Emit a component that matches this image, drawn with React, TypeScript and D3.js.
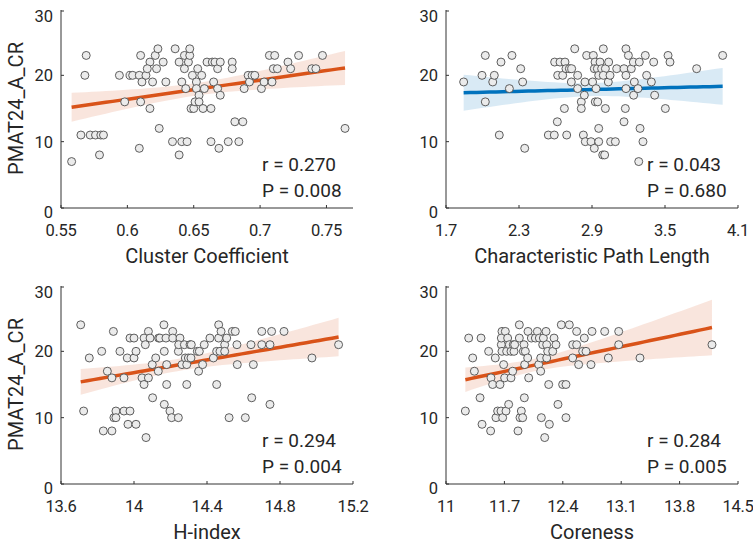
import * as d3 from "d3";
import React from "react";

// PMAT24_A_CR scores vs. graph metrics
const ccX = [0.558, 0.565, 0.568, 0.569, 0.572, 0.576, 0.579, 0.58, 0.582, 0.594, 0.598, 0.602, 0.604, 0.609, 0.61, 0.61, 0.609, 0.611, 0.614, 0.617, 0.617, 0.615, 0.619, 0.621, 0.623, 0.622, 0.624, 0.627, 0.629, 0.636, 0.634, 0.639, 0.639, 0.641, 0.641, 0.643, 0.643, 0.645, 0.644, 0.646, 0.647, 0.647, 0.649, 0.648, 0.65, 0.653, 0.652, 0.652, 0.651, 0.654, 0.654, 0.656, 0.657, 0.658, 0.66, 0.663, 0.663, 0.664, 0.665, 0.666, 0.668, 0.668, 0.669, 0.67, 0.67, 0.676, 0.679, 0.679, 0.681, 0.684, 0.687, 0.688, 0.691, 0.692, 0.694, 0.696, 0.701, 0.703, 0.707, 0.711, 0.709, 0.71, 0.713, 0.721, 0.723, 0.729, 0.739, 0.742, 0.747, 0.764];
const ccY = [7, 11, 20, 23, 11, 11, 8, 11, 11, 20, 16, 20, 20, 20, 23, 16, 9, 19, 20, 15, 22, 21, 19, 23, 24, 21, 12, 22, 19, 24, 10, 22, 8, 10, 19, 23, 21, 10, 18, 22, 23, 24, 20, 15, 15, 21, 19, 18, 16, 17, 16, 20, 15, 18, 22, 10, 15, 22, 19, 22, 21, 18, 9, 22, 17, 10, 22, 21, 13, 10, 13, 18, 20, 19, 20, 20, 18, 19, 23, 23, 19, 21, 21, 22, 21, 23, 21, 21, 23, 12];

const cplX = [1.845, 1.996, 2.023, 2.023, 2.084, 2.097, 2.138, 2.152, 2.221, 2.242, 2.314, 2.33, 2.347, 2.541, 2.59, 2.615, 2.593, 2.618, 2.637, 2.659, 2.673, 2.678, 2.692, 2.686, 2.714, 2.733, 2.73, 2.758, 2.782, 2.782, 2.812, 2.812, 2.829, 2.837, 2.842, 2.845, 2.856, 2.892, 2.905, 2.911, 2.919, 2.925, 2.919, 2.933, 2.927, 2.947, 2.955, 2.955, 2.944, 2.955, 2.966, 2.979, 2.993, 2.988, 3.004, 3.01, 3.01, 2.993, 3.034, 3.037, 3.048, 3.053, 3.092, 3.103, 3.163, 3.163, 3.174, 3.179, 3.179, 3.199, 3.179, 3.223, 3.24, 3.242, 3.248, 3.278, 3.284, 3.289, 3.295, 3.319, 3.338, 3.349, 3.388, 3.407, 3.415, 3.503, 3.525, 3.541, 3.76, 3.974];
const cplY = [19, 20, 23, 16, 19, 20, 11, 22, 18, 23, 21, 19, 9, 11, 11, 13, 22, 20, 22, 20, 15, 22, 11, 21, 21, 21, 19, 24, 20, 18, 16, 15, 11, 17, 19, 10, 23, 10, 19, 23, 9, 22, 21, 18, 16, 16, 12, 10, 21, 20, 22, 21, 24, 8, 8, 21, 15, 20, 19, 22, 20, 10, 10, 21, 21, 13, 15, 20, 24, 23, 18, 21, 22, 17, 19, 18, 7, 22, 12, 10, 23, 20, 19, 22, 17, 15, 23, 22, 21, 23];

const hX = [13.708, 13.724, 13.755, 13.823, 13.832, 13.854, 13.879, 13.879, 13.887, 13.89, 13.901, 13.901, 13.923, 13.945, 13.945, 13.963, 13.967, 13.978, 13.978, 14.0, 14.0, 14.011, 14.011, 14.044, 14.055, 14.055, 14.062, 14.066, 14.079, 14.079, 14.088, 14.1, 14.102, 14.119, 14.133, 14.135, 14.142, 14.164, 14.166, 14.166, 14.175, 14.179, 14.179, 14.197, 14.206, 14.212, 14.212, 14.243, 14.243, 14.252, 14.245, 14.263, 14.276, 14.281, 14.289, 14.289, 14.298, 14.307, 14.312, 14.314, 14.347, 14.354, 14.358, 14.376, 14.385, 14.416, 14.435, 14.453, 14.453, 14.464, 14.464, 14.471, 14.477, 14.497, 14.497, 14.508, 14.521, 14.539, 14.555, 14.564, 14.566, 14.61, 14.641, 14.645, 14.654, 14.7, 14.7, 14.745, 14.745, 14.754, 14.822, 14.975, 15.121];
const hY = [24, 11, 19, 20, 8, 17, 8, 16, 23, 10, 11, 10, 20, 16, 11, 19, 9, 22, 11, 22, 19, 20, 9, 16, 22, 15, 21, 7, 23, 16, 22, 18, 13, 19, 17, 22, 22, 24, 20, 12, 22, 18, 15, 11, 10, 23, 22, 20, 10, 22, 21, 18, 21, 19, 15, 18, 19, 21, 19, 21, 20, 17, 20, 18, 21, 22, 19, 20, 15, 24, 22, 20, 23, 21, 20, 22, 10, 23, 23, 21, 18, 10, 21, 13, 18, 23, 21, 12, 21, 23, 23, 19, 21];

const corX = [11.232, 11.272, 11.32, 11.34, 11.408, 11.42, 11.432, 11.511, 11.535, 11.539, 11.559, 11.591, 11.599, 11.619, 11.647, 11.659, 11.671, 11.663, 11.663, 11.671, 11.679, 11.691, 11.703, 11.711, 11.719, 11.727, 11.739, 11.751, 11.759, 11.779, 11.779, 11.799, 11.807, 11.815, 11.823, 11.863, 11.879, 11.879, 11.887, 11.903, 11.919, 11.927, 11.935, 11.939, 11.943, 11.951, 11.979, 11.983, 11.991, 12.023, 12.071, 12.095, 12.111, 12.119, 12.135, 12.135, 12.143, 12.159, 12.167, 12.183, 12.199, 12.207, 12.207, 12.219, 12.231, 12.239, 12.279, 12.295, 12.318, 12.342, 12.382, 12.398, 12.438, 12.438, 12.478, 12.518, 12.518, 12.566, 12.566, 12.59, 12.638, 12.658, 12.678, 12.738, 12.75, 12.902, 12.946, 13.07, 13.07, 13.325, 14.188];
const corY = [11, 22, 19, 17, 13, 22, 9, 20, 8, 16, 15, 19, 10, 11, 15, 11, 23, 21, 22, 20, 10, 18, 16, 23, 11, 20, 22, 12, 21, 16, 20, 17, 21, 20, 21, 8, 24, 22, 10, 11, 10, 20, 21, 13, 18, 20, 19, 23, 16, 22, 22, 23, 18, 22, 19, 17, 10, 21, 22, 7, 23, 21, 19, 20, 15, 9, 20, 22, 21, 12, 24, 15, 15, 10, 24, 19, 21, 21, 23, 18, 20, 22, 20, 18, 23, 23, 19, 23, 21, 19, 21];

const ccTicks = [0.55, 0.6, 0.65, 0.7, 0.75];
const cplTicks = [1.7, 2.3, 2.9, 3.5, 4.1];
const hTicks = [13.6, 14, 14.4, 14.8, 15.2];
const corTicks = [11, 11.7, 12.4, 13.1, 13.8, 14.5];
const yTicks = [0, 10, 20, 30];

const ORANGE = "#D95319";
const BLUE = "#0072BD";
const FONT = "Roboto, 'DejaVu Sans', sans-serif";

const W = 292;
const H = 199;

// least squares fit with 95% confidence band of the mean
function fit(xs: number[], ys: number[]) {
  const n = xs.length;
  const mx = d3.mean(xs)!;
  const my = d3.mean(ys)!;
  const sxx = d3.sum(xs, (x) => (x - mx) ** 2);
  const sxy = d3.sum(xs, (x, i) => (x - mx) * (ys[i] - my));
  const b = sxy / sxx;
  const a = my - b * mx;
  const sse = d3.sum(xs, (x, i) => (ys[i] - a - b * x) ** 2);
  const s = Math.sqrt(sse / (n - 2));
  const t = 1.987;
  const [x0, x1] = d3.extent(xs) as [number, number];
  return d3.range(0, 41).map((k) => {
    const x = x0 + ((x1 - x0) * k) / 40;
    const yhat = a + b * x;
    const se = s * Math.sqrt(1 / n + (x - mx) ** 2 / sxx);
    return { x, y: yhat, lo: yhat - t * se, hi: yhat + t * se };
  });
}

type PanelProps = {
  left: number;
  top: number;
  xs: number[];
  ys: number[];
  domain: [number, number];
  ticks: number[];
  label: string;
  r: string;
  p: string;
  color: string;
  yLabel?: boolean;
};

const Panel = ({ left, top, xs, ys, domain, ticks, label, r, p, color, yLabel }: PanelProps) => {
  const x = d3.scaleLinear(domain, [0, W]);
  const y = d3.scaleLinear([0, 30], [H, 0]);
  const pts = fit(xs, ys);
  const band = d3
    .area<{ x: number; lo: number; hi: number }>()
    .x((d) => x(d.x))
    .y0((d) => y(d.lo))
    .y1((d) => y(d.hi));
  const line = d3
    .line<{ x: number; y: number }>()
    .x((d) => x(d.x))
    .y((d) => y(d.y));

  return (
    <g transform={`translate(${left},${top})`} fontFamily={FONT} fill="#262626">
      <path d={band(pts) ?? undefined} fill={color} fillOpacity={0.15} stroke="none" />
      <path d={line(pts) ?? undefined} fill="none" stroke={color} strokeWidth={3.5} />
      <g fill="#EBEBEB" stroke="#4d4d4d" strokeWidth={0.9}>
        {xs.map((d, i) => (
          <circle key={i} cx={x(d)} cy={y(ys[i])} r={4} />
        ))}
      </g>
      <g stroke="#333" strokeWidth={1} fill="none">
        <line x1={0} x2={0} y1={1} y2={H} />
        <line x1={0} x2={W} y1={H} y2={H} />
        {yTicks.map((t) => (
          <line key={t} x1={0} x2={3} y1={Math.max(y(t), 2)} y2={Math.max(y(t), 2)} />
        ))}
        {ticks.map((t) => (
          <line key={t} x1={x(t)} x2={x(t)} y1={H} y2={H - 3} />
        ))}
      </g>
      {yTicks.map((t) => (
        <text key={t} x={-8} y={Math.max(y(t) + 6, 12.5) + (t === 0 ? 4 : 0)} textAnchor="end" fontSize={16.5}>
          {t}
        </text>
      ))}
      {ticks.map((t) => (
        <text key={t} x={x(t)} y={H + 28} textAnchor="middle" fontSize={16.5} letterSpacing={-0.3}>
          {String(t)}
        </text>
      ))}
      <text x={W / 2} y={H + 55} textAnchor="middle" fontSize={20}>
        {label}
      </text>
      {yLabel && (
        <text transform={`translate(-38,${H / 2}) rotate(-90)`} textAnchor="middle" fontSize={20}>
          PMAT24_A_CR
        </text>
      )}
      <text x={201} y={H - 37} fontSize={19}>
        {r}
      </text>
      <text x={201} y={H - 11} fontSize={19}>
        {p}
      </text>
    </g>
  );
};

export default function App() {
  return (
    <svg width={753} height={544} style={{ position: "absolute", left: 0, top: 0, background: "#fff" }}>
      <Panel left={61} top={9} xs={ccX} ys={ccY} domain={[0.55, 0.77]} ticks={ccTicks} label="Cluster Coefficient" r="r = 0.270" p="P = 0.008" color={ORANGE} yLabel />
      <Panel left={446} top={9} xs={cplX} ys={cplY} domain={[1.7, 4.1]} ticks={cplTicks} label="Characteristic Path Length" r="r = 0.043" p="P = 0.680" color={BLUE} />
      <Panel left={61} top={285} xs={hX} ys={hY} domain={[13.6, 15.2]} ticks={hTicks} label="H-index" r="r = 0.294" p="P = 0.004" color={ORANGE} yLabel />
      <Panel left={446} top={285} xs={corX} ys={corY} domain={[11, 14.5]} ticks={corTicks} label="Coreness" r="r = 0.284" p="P = 0.005" color={ORANGE} />
    </svg>
  );
}
